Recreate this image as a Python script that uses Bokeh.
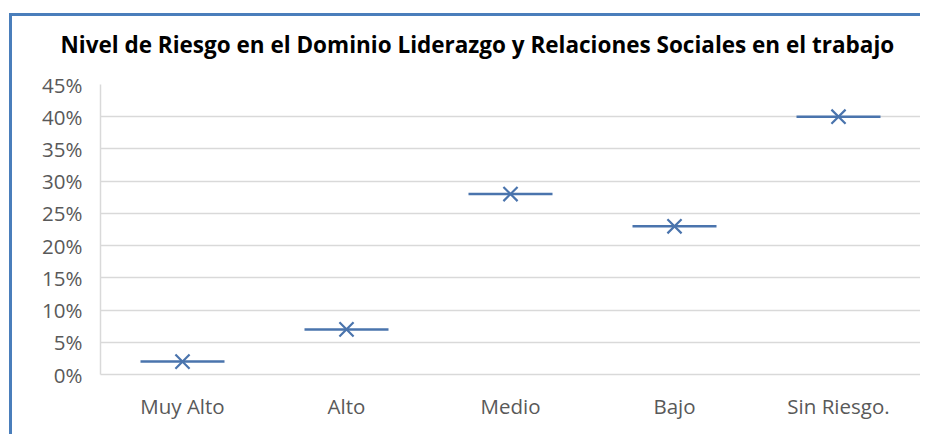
from bokeh.plotting import figure
from bokeh.models import FactorRange, Range1d, NumeralTickFormatter, SingleIntervalTicker, Title, ColumnDataSource
from bokeh.embed import file_html
from bokeh.resources import INLINE

categories = ["Muy Alto", "Alto", "Medio", "Bajo", "Sin Riesgo."]
values = [0.02, 0.07, 0.28, 0.23, 0.40]
title_text = "Nivel de Riesgo en el Dominio Liderazgo y Relaciones Sociales en el trabajo"

src = ColumnDataSource(dict(cat=categories, val=values))

BLUE = "#4a74ad"
FONT = "Open Sans"

p = figure(width=911, height=421, output_backend="svg", toolbar_location=None,
           x_range=FactorRange(*categories), y_range=Range1d(0, 0.45),
           min_border_left=88, min_border_right=3, min_border_top=68, min_border_bottom=63,
           title=None)
p.margin = (13, 0, 0, 9)
p.styles = {"border-left": "3px solid #4a7ebb", "border-top": "3px solid #4a7ebb"}
p.outline_line_color = None
p.background_fill_color = "white"
p.border_fill_color = "white"

spacer = Title(text=" ", text_font_size="1px", standoff=20)
p.add_layout(spacer, "above")
t = Title(text=title_text, align="left", offset=-40, text_font=FONT, text_font_size="22.5px",
          text_font_style="bold", text_color="#000000", standoff=4)
p.add_layout(t, "above")

p.scatter("cat", "val", source=src, marker="dash", size=84, line_color=BLUE, line_width=2.5)
p.scatter("cat", "val", source=src, marker="x", size=20, line_color=BLUE, line_width=2.2)

p.yaxis.ticker = SingleIntervalTicker(interval=0.05)
p.yaxis.formatter = NumeralTickFormatter(format="0%")
p.ygrid.grid_line_color = "#d9d9d9"
p.ygrid.grid_line_width = 1.5
p.xgrid.grid_line_color = None

for ax in (p.xaxis, p.yaxis):
    ax.major_tick_line_color = None
    ax.minor_tick_line_color = None
    ax.axis_line_color = "#d9d9d9"
    ax.axis_line_width = 1.5
    ax.major_label_text_font = FONT
    ax.major_label_text_font_size = "20.5px"
    ax.major_label_text_color = "#595959"
p.yaxis.major_label_standoff = 12
p.xaxis.major_label_standoff = 11

open("out.html", "w").write(file_html(p, INLINE))
